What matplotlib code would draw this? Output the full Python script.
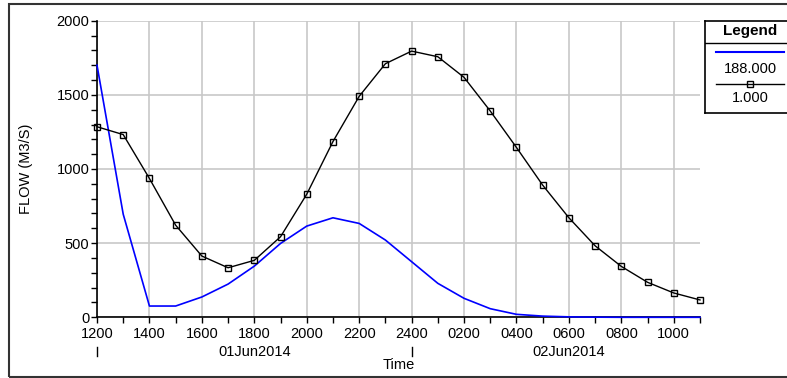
import matplotlib
matplotlib.use("Agg")
import matplotlib.pyplot as plt
from matplotlib.patches import Rectangle
import numpy as np

plt.rcParams['font.family'] = ['Liberation Sans', 'DejaVu Sans']

# hours since 1200 on 01Jun2014
hours = list(range(24))
flow_188 = [1700, 695, 76, 76, 137, 224, 345, 498, 615, 671, 633, 521,
            375, 229, 128, 58, 20, 8, 3, 1, 0, 0, 0, 0]
flow_1 = [1285, 1232, 936, 621, 413, 334, 384, 543, 830, 1185, 1490, 1710,
          1795, 1757, 1618, 1391, 1145, 891, 671, 482, 343, 236, 164, 117]

tick_hours = list(range(0, 24, 2))
tick_labels = ['1200', '1400', '1600', '1800', '2000', '2200', '2400',
               '0200', '0400', '0600', '0800', '1000']
day_labels = [(6, '01Jun2014'), (18, '02Jun2014')]
day_marks = [0, 12]

W, H = 787, 378
FS = 10.5
fig = plt.figure(figsize=(W / 100, H / 100), dpi=100)

# outer frame
fig.patches.append(Rectangle((9 / W, 1.5 / H), 1.0, (374 - 1.5) / H,
                             transform=fig.transFigure, fill=False,
                             edgecolor='#333333', linewidth=1.5))

ax = fig.add_axes([97 / W, (H - 317.3) / H, (700 - 97) / W, (317.3 - 20.7) / H])
ax.plot(hours, flow_188, color='#0000ff', linewidth=1.2, zorder=3, clip_on=False)
ax.plot(hours, flow_1, color='black', linewidth=1.0, marker='s', markersize=5,
        markerfacecolor='none', markeredgecolor='black', markeredgewidth=1.0,
        zorder=4, clip_on=False)

ax.set_xlim(0, 23)
ax.set_ylim(0, 2000)
ax.set_xticks(tick_hours)
ax.set_xticklabels(tick_labels)
ax.set_xticks(hours, minor=True)
ax.set_yticks([0, 500, 1000, 1500, 2000])
ax.set_yticks(np.arange(0, 2001, 100), minor=True)
ax.tick_params(axis='both', which='both', direction='out', length=4, width=1,
               labelsize=FS, color='black')
ax.tick_params(axis='x', pad=3)
ax.tick_params(axis='y', pad=1.5)
ax.grid(True, which='major', color='#c8c8c8', linewidth=1.2)
ax.set_axisbelow(True)
for s in ['top', 'right']:
    ax.spines[s].set_visible(False)
for s in ['left', 'bottom']:
    ax.spines[s].set_linewidth(1.2)

ax.set_ylabel('FLOW (M3/S)', fontsize=FS)
ax.yaxis.set_label_coords(-0.106, 0.5)

xt = ax.get_xaxis_transform()
for h, lab in day_labels:
    ax.text(h, -0.117, lab, transform=xt, ha='center', va='center', fontsize=FS)
for h in day_marks:
    ax.plot([h, h], [-0.1, -0.13], transform=xt, color='black',
            linewidth=1.0, clip_on=False)
ax.text(11.5, -0.162, 'Time', transform=xt, ha='center', va='center', fontsize=FS)

# legend box
lx0, lx1, ly0, ly1 = 705, 795, 20.7, 112.7
lax = fig.add_axes([lx0 / W, (H - ly1) / H, (lx1 - lx0) / W, (ly1 - ly0) / H])
lax.set_xlim(lx0, lx1)
lax.set_ylim(ly1, ly0)
lax.set_xticks([])
lax.set_yticks([])
for s in lax.spines.values():
    s.set_linewidth(1.2)
lax.text(750, 31, 'Legend', ha='center', va='center', fontsize=11, fontweight='bold')
lax.plot([lx0, lx1], [42.7, 42.7], color='black', linewidth=1.0)
lax.plot([715.5, 784], [51.7, 51.7], color='#0000ff', linewidth=1.5)
lax.text(750, 69, '188.000', ha='center', va='center', fontsize=FS)
lax.plot([715.5, 784], [84, 84], color='black', linewidth=1.0)
lax.plot([750], [84], marker='s', markersize=5, markerfacecolor='none',
         markeredgecolor='black', markeredgewidth=1.0)
lax.text(750, 98.5, '1.000', ha='center', va='center', fontsize=FS)

fig.savefig('out.png', dpi=100)
